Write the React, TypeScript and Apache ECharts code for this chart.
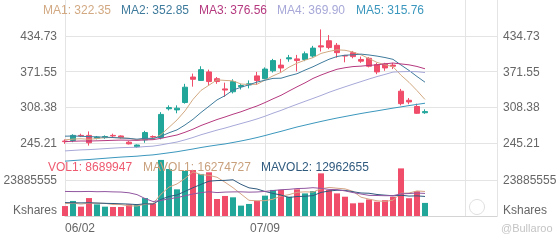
import React, { useEffect, useRef } from 'react';
import * as echarts from 'echarts';

const dates = [
  '06/02', '06/03', '06/04', '06/05', '06/06', '06/09', '06/10', '06/11', '06/12', '06/13',
  '06/16', '06/17', '06/18', '06/20', '06/23', '06/24', '06/25', '06/26', '06/27', '06/30',
  '07/01', '07/02', '07/03', '07/07', '07/08', '07/09', '07/10', '07/11', '07/14', '07/15',
  '07/16', '07/17', '07/18', '07/21', '07/22', '07/23', '07/24', '07/25', '07/28', '07/29',
  '07/30', '07/31', '08/01', '08/04', '08/05', '08/06', '08/07', '08/08', '08/11', '08/12',
  '08/13', '08/14', '08/15', '08/18', '08/19',
];
const labelledDates = ['06/02', '07/09'];

// [open, close, low, high]
const candles = [
  [249, 248, 244, 252], [250, 259, 247, 261], [259, 258, 256, 262], [259, 246, 241, 266],
  [254, 256, 252, 258], [255, 257, 253, 259], [259, 258, 255, 262], [258, 255, 253, 259],
  [247, 244, 243, 249], [239, 242, 237, 243], [251, 264, 246, 267], [257, 256, 254, 259],
  [255, 296, 252, 300], [306, 308, 303, 312], [304, 307, 298, 312], [317, 344, 315, 350],
  [362, 358, 345, 368], [356, 375, 355, 381], [371, 354, 348, 375], [359, 354, 350, 362],
  [341, 339, 327, 352], [336, 354, 333, 358], [345, 347, 340, 350], [348, 350, 342, 356],
  [364, 356, 348, 371], [359, 376, 358, 379], [373, 391, 370, 394], [383, 378, 371, 394],
  [394, 396, 389, 401], [394, 391, 372, 401], [393, 403, 390, 407], [399, 413, 396, 417],
  [417, 415, 407, 446], [426, 414, 411, 436], [418, 405, 396, 422], [400, 399, 388, 401],
  [405, 398, 395, 408], [393, 390, 387, 398], [395, 381, 379, 397], [384, 371, 367, 387],
  [385, 378, 373, 387], [383, 381, 376, 387], [337, 315, 312, 341], [321, 318, 314, 325],
  [310, 298, 297, 315], [299, 301, 297, 305],
];

const ma1 = [251.2, 252.4, 253.1, 252.0, 253.4, 255.2, 255.0, 254.4, 254.0, 251.2, 252.6, 252.2, 260.4, 273.2, 286.2, 302.2, 322.6, 338.4, 347.6, 357.0, 356.0, 355.2, 349.6, 348.8, 349.2, 356.6, 364.0, 370.2, 379.4, 386.4, 391.8, 396.2, 403.6, 407.2, 410.0, 409.2, 406.2, 401.2, 394.6, 387.8, 383.6, 380.2, 365.2, 352.6, 338.0, 322.35];
const ma2 = [257.6, 257.9, 257.4, 256.8, 256.3, 255.9, 255.2, 254.5, 253.6, 252.3, 253.9, 253.6, 257.4, 263.6, 268.7, 277.4, 287.4, 299.4, 310.4, 321.6, 329.1, 338.9, 344.0, 348.2, 353.1, 356.3, 359.6, 359.9, 364.1, 367.8, 374.2, 380.1, 386.9, 393.3, 398.2, 400.5, 401.2, 402.4, 400.9, 398.9, 396.4, 393.2, 383.2, 373.6, 362.9, 352.85];
const ma3 = [248.0, 248.6, 249.1, 249.0, 249.4, 249.8, 250.3, 250.7, 250.5, 250.2, 251.0, 251.4, 253.8, 256.8, 259.7, 264.5, 270.0, 276.4, 281.7, 287.0, 291.5, 296.3, 300.7, 305.9, 310.9, 316.9, 323.5, 329.7, 337.3, 344.7, 351.7, 359.5, 365.5, 370.8, 375.7, 378.4, 380.4, 381.2, 382.5, 383.4, 385.3, 386.7, 385.1, 383.5, 380.6, 376.56];
const ma4 = [231.6, 232.5, 233.4, 233.9, 234.7, 235.6, 236.5, 237.3, 237.7, 238.1, 239.2, 240.0, 242.2, 244.8, 247.3, 251.1, 255.3, 260.1, 264.2, 268.3, 271.9, 276.0, 279.9, 283.8, 288.0, 292.8, 298.2, 303.1, 308.6, 313.9, 319.1, 324.2, 329.4, 335.0, 340.0, 344.7, 349.4, 353.9, 358.5, 362.8, 366.6, 370.7, 371.4, 371.7, 371.4, 369.90];
const ma5 = [213.5, 214.6, 215.6, 216.4, 217.5, 218.6, 219.7, 220.7, 221.5, 222.3, 223.6, 224.6, 226.4, 228.3, 230.2, 232.6, 235.0, 237.6, 239.9, 242.0, 243.9, 246.5, 249.1, 252.0, 255.2, 258.7, 262.5, 266.1, 270.0, 273.8, 277.1, 280.4, 283.6, 286.7, 289.6, 292.3, 295.0, 297.6, 300.0, 302.3, 304.7, 307.1, 309.3, 311.6, 313.7, 315.76];

const volumes = [6600000, 10000000, 6200000, 11900000, 7700000, 6200000, 6000000, 6000000, 7700000, 7300000, 11900000, 8400000, 37200000, 31200000, 17700000, 29900000, 30500000, 27900000, 29000000, 11300000, 13300000, 12400000, 6900000, 8000000, 10000000, 13500000, 17300000, 17300000, 12800000, 17700000, 15000000, 16600000, 28300000, 17300000, 15000000, 12800000, 8400000, 8800000, 11000000, 9500000, 10500000, 12800000, 31600000, 11800000, 16500000, 8689947];
const mavol1 = [8200000, 8600000, 7900000, 8500000, 8480000, 8400000, 7600000, 7560000, 6720000, 6640000, 7780000, 8260000, 14500000, 19200000, 21280000, 24880000, 29300000, 27440000, 27000000, 25720000, 22400000, 18780000, 14580000, 10380000, 10120000, 10160000, 11140000, 13220000, 14180000, 15720000, 16020000, 15880000, 18080000, 18980000, 18440000, 18000000, 16360000, 12460000, 11200000, 10100000, 9640000, 10520000, 15080000, 15240000, 16640000, 16274727];
const mavol2 = [8900000, 8800000, 8700000, 8800000, 8600000, 8400000, 8300000, 8100000, 7900000, 7560000, 8090000, 7930000, 11030000, 12960000, 13960000, 16330000, 18780000, 20970000, 23100000, 23500000, 23640000, 24040000, 21010000, 18690000, 17920000, 16280000, 14960000, 13900000, 12280000, 12920000, 13090000, 13510000, 15650000, 16580000, 17080000, 17010000, 16120000, 15270000, 15090000, 14270000, 13820000, 13440000, 13770000, 13220000, 13370000, 12962655];
const mavol3 = [16300000, 16200000, 16200000, 16300000, 16100000, 16200000, 16000000, 15900000, 15400000, 14200000, 11600000, 9600000, 10300000, 11400000, 12200000, 13400000, 14600000, 15500000, 16100000, 15530000, 15870000, 15990000, 16020000, 15830000, 15940000, 16310000, 16870000, 17440000, 17690000, 18210000, 18370000, 18780000, 18330000, 17640000, 17500000, 16650000, 15540000, 14590000, 13690000, 13600000, 13460000, 13480000, 14710000, 14900000, 15230000, 14980000];

const priceTickLabels = ['245.21', '308.38', '371.55', '434.73'];
const priceMin = 182.04;
const priceStep = 63.173;
const volStep = 23885555;
const volTickLabels = ['Kshares', '23885555'];

const FONT = '"Liberation Sans", Arial, Helvetica, sans-serif';
const UP = '#22a69a';
const DOWN = '#f04d6a';
const GRID = '#e4e4e4';
const LABEL = '#666666';

export default function App() {
  const ref = useRef<HTMLDivElement>(null);
  useEffect(() => {
    if (!ref.current) return;
    const chart = echarts.init(ref.current, undefined, { renderer: 'svg' });
    const priceMax = priceMin + priceStep * 5;
    const volMax = volStep * 2;
    const priceFmt = (v: number) => {
      const hit = priceTickLabels.find((t) => Math.abs(parseFloat(t) - v) < 0.05);
      return hit || '';
    };
    const volFmt = (v: number) => {
      const idx = Math.round(v / volStep);
      return volTickLabels[idx] ?? '';
    };
    const maSeries = [ma1, ma2, ma3, ma4, ma5];
    const maNames = ['MA1', 'MA2', 'MA3', 'MA4', 'MA5'];
    const maColors = ['#d2a982', '#3f7b9c', '#b5397f', '#a7a8d8', '#3b97bd'];
    const maLegendX = [43, 121, 199, 277, 356];
    const volMaSeries = [mavol1, mavol2, mavol3];
    const volMaColors = ['#d6a585', '#2f5a7e', '#9156a0'];
    const last = candles.length - 1;

    const yLabel = { color: LABEL, fontSize: 12, fontFamily: FONT };

    const option: any = {
      animation: false,
      grid: [
        { left: 65, right: 63, top: -1, height: 180 },
        { left: 65, right: 63, top: 144, height: 72 },
      ],
      xAxis: [
        {
          type: 'category', gridIndex: 0, data: dates, boundaryGap: false,
          axisLine: { show: false }, axisTick: { show: false }, axisLabel: { show: false },
          splitLine: { show: true, interval: 24, lineStyle: { color: GRID, width: 1 } },
        },
        {
          type: 'category', gridIndex: 1, data: dates, boundaryGap: false,
          axisLine: { show: true, lineStyle: { color: '#d4d4d4' } }, axisTick: { show: false },
          axisLabel: {
            show: true, interval: 24, margin: 6, color: LABEL, fontSize: 12, fontFamily: FONT,
            alignMinLabel: 'left',
            formatter: (v: string) => (labelledDates.includes(v) ? v : ''),
          },
          splitLine: { show: true, interval: 24, lineStyle: { color: GRID, width: 1 } },
        },
      ],
      yAxis: [
        {
          type: 'value', gridIndex: 0, position: 'left', min: priceMin, max: priceMax, interval: priceStep,
          axisLine: { show: false }, axisTick: { show: false },
          axisLabel: { ...yLabel, margin: 8, formatter: priceFmt },
          splitLine: { show: true, showMinLine: false, showMaxLine: false, lineStyle: { color: GRID } },
        },
        {
          type: 'value', gridIndex: 0, position: 'right', min: priceMin, max: priceMax, interval: priceStep,
          axisLine: { show: true, lineStyle: { color: GRID } }, axisTick: { show: false },
          axisLabel: { ...yLabel, margin: 6, formatter: priceFmt },
          splitLine: { show: false },
        },
        {
          type: 'value', gridIndex: 1, position: 'left', min: 0, max: volMax, interval: volStep,
          axisLine: { show: false }, axisTick: { show: false },
          axisLabel: { ...yLabel, margin: 8, formatter: volFmt, verticalAlignMinLabel: 'bottom' },
          splitLine: { show: true, showMinLine: false, showMaxLine: false, lineStyle: { color: GRID } },
        },
        {
          type: 'value', gridIndex: 1, position: 'right', min: 0, max: volMax, interval: volStep,
          axisLine: { show: true, lineStyle: { color: GRID } }, axisTick: { show: false },
          axisLabel: { ...yLabel, margin: 6, formatter: volFmt, verticalAlignMinLabel: 'bottom' },
          splitLine: { show: false },
        },
      ],
      series: [
        ...maSeries.map((d, i) => ({
          type: 'line', name: maNames[i], xAxisIndex: 0, yAxisIndex: 0, data: d,
          symbol: 'none', showSymbol: false, silent: true,
          lineStyle: { width: 1, color: maColors[i] }, itemStyle: { color: maColors[i] },
        })),
        {
          type: 'candlestick', xAxisIndex: 0, yAxisIndex: 0, data: candles, barWidth: 6,
          itemStyle: { color: UP, color0: DOWN, borderColor: UP, borderColor0: DOWN, borderWidth: 1 },
        },
        {
          type: 'bar', xAxisIndex: 1, yAxisIndex: 2, barWidth: 6,
          data: volumes.map((v, i) => ({
            value: v,
            itemStyle: { color: candles[i][1] >= candles[i][0] ? UP : DOWN },
          })),
        },
        ...volMaSeries.map((d, i) => ({
          type: 'line', xAxisIndex: 1, yAxisIndex: 2, data: d,
          symbol: 'none', showSymbol: false, silent: true,
          lineStyle: { width: 1, color: volMaColors[i] }, itemStyle: { color: volMaColors[i] },
        })),
      ],
      graphic: [
        ...maSeries.map((d, i) => ({
          type: 'text', x: maLegendX[i], y: 10, z: 100,
          style: {
            text: `${maNames[i]}: ${d[last].toFixed(2)}`, fill: maColors[i],
            font: `12px ${FONT}`, verticalAlign: 'middle', textVerticalAlign: 'middle',
          },
        })),
        {
          type: 'text', x: 48, y: 167, z: 100,
          style: { text: `VOL1: ${volumes[last]}`, fill: '#ee5a70', font: `12px ${FONT}`, verticalAlign: 'middle', textVerticalAlign: 'middle' },
        },
        {
          type: 'text', x: 143, y: 167, z: 100,
          style: { text: `MAVOL1: ${Math.round(mavol1[last])}`, fill: '#c9a07c', font: `12px ${FONT}`, verticalAlign: 'middle', textVerticalAlign: 'middle' },
        },
        {
          type: 'text', x: 261, y: 167, z: 100,
          style: { text: `MAVOL2: ${Math.round(mavol2[last])}`, fill: '#2f5a7e', font: `12px ${FONT}`, verticalAlign: 'middle', textVerticalAlign: 'middle' },
        },
        {
          type: 'circle', shape: { cx: 477, cy: 207, r: 7.5 }, z: 100,
          style: { fill: 'none', stroke: '#dedede', lineWidth: 1 },
        },
        {
          type: 'text', x: 501, y: 228, z: 100,
          style: { text: '@Bullaroo', fill: '#c4c4c4', font: `11px ${FONT}`, verticalAlign: 'middle', textVerticalAlign: 'middle' },
        },
      ],
    };
    chart.setOption(option);
    return () => chart.dispose();
  }, []);
  return <div ref={ref} style={{ position: 'fixed', left: 0, top: 0, width: 560, height: 240 }} />;
}
